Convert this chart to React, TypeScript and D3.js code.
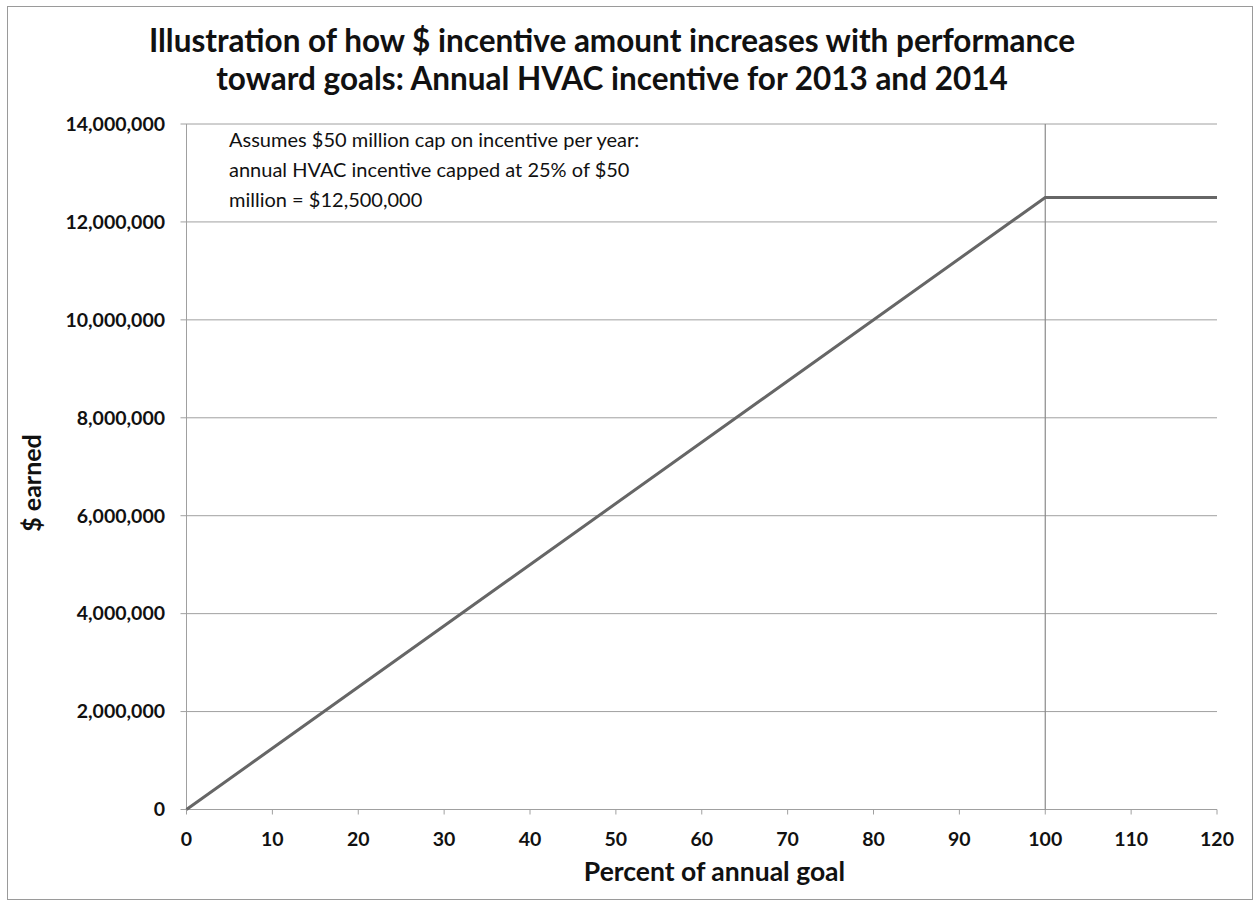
import React from "react";
import * as d3 from "d3";

const titleLines = [
  "Illustration of how $ incentive amount increases with performance",
  "toward goals: Annual HVAC incentive for 2013 and 2014",
];
const noteLines = [
  "Assumes $50 million cap on incentive per year:",
  "annual HVAC incentive capped at 25% of $50",
  "million = $12,500,000",
];
const percentGoal = [0, 100, 120];
const dollarsEarned = [0, 12500000, 12500000];
const xTicks = [0, 10, 20, 30, 40, 50, 60, 70, 80, 90, 100, 110, 120];
const yTicks = [0, 2000000, 4000000, 6000000, 8000000, 10000000, 12000000, 14000000];
const capPercent = [100];

const W = 1258;
const H = 906;
const left = 186.5;
const right = 1217;
const top = 124;
const bottom = 809.5;
const FONT = "Lato, 'Open Sans', sans-serif";

export default function App() {
  const x = d3.scaleLinear().domain([0, 120]).range([left, right]);
  const y = d3.scaleLinear().domain([0, 14000000]).range([bottom, top]);
  const fmt = d3.format(",");
  const pts = percentGoal.map((p, i) => [p, dollarsEarned[i]] as [number, number]);
  const line = d3
    .line<[number, number]>()
    .x((d) => x(d[0]))
    .y((d) => y(d[1]));

  return (
    <svg
      width={W}
      height={H}
      style={{ position: "absolute", left: 0, top: 0, background: "#fff" }}
      fontFamily={FONT}
    >
      <rect x={7.5} y={6.5} width={1245} height={893} fill="#fff" stroke="#9a9a9a" strokeWidth={1} />
      {titleLines.map((t, i) => (
        <text
          key={i}
          x={612}
          y={52 + i * 38}
          textAnchor="middle"
          fontSize={31.5}
          fontWeight={700}
          fill="#111"
        >
          {t}
        </text>
      ))}
      {yTicks.map((v) => (
        <g key={v}>
          <line x1={left - 6} x2={right} y1={y(v)} y2={y(v)} stroke="#a0a0a0" strokeWidth={1} />
          <text
            x={165}
            y={y(v)}
            dy="0.35em"
            textAnchor="end"
            fontSize={19.5}
            fontWeight={700}
            fill="#111"
          >
            {fmt(v)}
          </text>
        </g>
      ))}
      <line x1={left} x2={left} y1={top} y2={bottom} stroke="#a0a0a0" strokeWidth={1} />
      {xTicks.map((v) => (
        <g key={v}>
          <line x1={x(v)} x2={x(v)} y1={bottom} y2={bottom + 5} stroke="#a0a0a0" strokeWidth={1} />
          <text
            x={x(v)}
            y={839}
            dy="0.35em"
            textAnchor="middle"
            fontSize={19.5}
            fontWeight={700}
            fill="#111"
          >
            {v}
          </text>
        </g>
      ))}
      {capPercent.map((c) => (
        <line key={c} x1={x(c)} x2={x(c)} y1={top} y2={bottom} stroke="#8a8a8a" strokeWidth={1.2} />
      ))}
      <path d={line(pts) || ""} fill="none" stroke="#666" strokeWidth={3} />
      <text
        x={714.5}
        y={872}
        dy="0.35em"
        textAnchor="middle"
        fontSize={26.5}
        fontWeight={700}
        fill="#111"
      >
        Percent of annual goal
      </text>
      <text
        transform={`translate(32,483) rotate(-90)`}
        textAnchor="middle"
        dy="0.35em"
        fontSize={25}
        fontWeight={700}
        fill="#111"
      >
        $ earned
      </text>
      {noteLines.map((t, i) => (
        <text key={i} x={229} y={147 + i * 30} fontSize={20} fill="#111">
          {t}
        </text>
      ))}
    </svg>
  );
}
